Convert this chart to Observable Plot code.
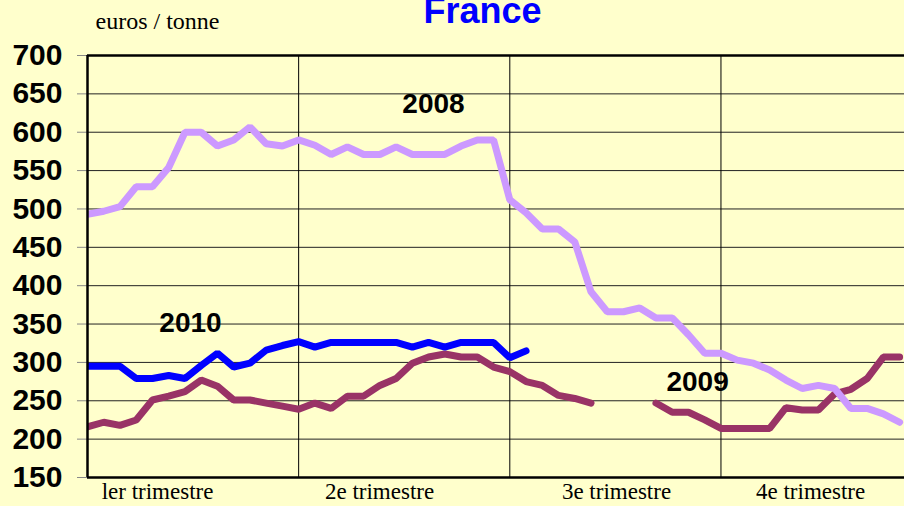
<!DOCTYPE html>
<html>
<head>
<meta charset="utf-8">
<script src="https://cdn.jsdelivr.net/npm/d3@7"></script>
<script src="https://cdn.jsdelivr.net/npm/@observablehq/plot@0.6"></script>
<style>
  html, body { margin: 0; padding: 0; background: #FFFFCC; overflow: hidden; }
  #chart svg { display: block; }
</style>
</head>
<body>
<div id="chart"></div>
<script>
// ---- data (weekly prices, euros / tonne) ----
const prices2008 = [493,497,503,529,529,554,600,600,582,590,607,585,582,590,583,571,581,571,571,581,571,571,571,582,590,590,512,495,474,474,457,392,366,366,371,358,358,336,312,312,303,299,290,277,266,270,266,240,240,233,222];
const prices2009 = [216,222,218,225,251,256,262,277,269,251,251,247,243,239,247,240,256,256,270,279,299,307,311,307,307,294,288,275,270,257,253,247,null,null,null,247,235,235,225,214,214,214,214,241,238,238,259,265,279,307,307];
const prices2010 = [295,295,295,279,279,283,279,296,312,294,299,316,322,327,320,326,326,326,326,326,320,326,320,326,326,326,306,315];

const years = ["2008", "2009", "2010"];
const yearColors = ["#CC99FF", "#993366", "#0000FF"];

const yTicks = [150,200,250,300,350,400,450,500,550,600,650,700];
const quarterLabels = ["ler trimestre", "2e trimestre", "3e trimestre", "4e trimestre"];
const quarterLabelWeeks = [4.31, 17.98, 32.57, 44.52];
const quarterBounds = [13, 26, 39];

const yearLabelWeeks = [21.3, 37.56, 6.34];
const yearLabelPrices = [637, 275, 351];

const title = "France";
const unit = "euros / tonne";

// ---- build tables ----
const toRows = (arr, year) => arr.map((p, i) => ({week: i, price: p, year}));
const rows2008 = toRows(prices2008, "2008");
const rows2009 = toRows(prices2009, "2009");
const rows2010 = toRows(prices2010, "2010");
const yearLabelRows = years.map((y, i) => ({year: y, week: yearLabelWeeks[i], price: yearLabelPrices[i]}));
const quarterRows = quarterLabels.map((t, i) => ({text: t, week: quarterLabelWeeks[i]}));

const lineOpts = {x: "week", y: "price", stroke: "year", strokeWidth: 7, strokeLinejoin: "miter", strokeLinecap: "round", clip: true};

const chart = Plot.plot({
  width: 904,
  height: 506,
  marginLeft: 87,
  marginRight: 0,
  marginTop: 55,
  marginBottom: 29,
  style: {background: "transparent", fontFamily: "'Liberation Sans', Arial, sans-serif", color: "black", overflow: "hidden"},
  x: {domain: [0, 50.3], axis: null},
  y: {domain: [150, 700], axis: null},
  color: {domain: years, range: yearColors},
  marks: [
    Plot.gridY(yTicks, {stroke: "#222", strokeOpacity: 1, strokeWidth: 1}),
    Plot.ruleX(quarterBounds, {stroke: "#000", strokeWidth: 1}),
    Plot.axisY({ticks: yTicks, label: null, tickSize: 10, tickPadding: 15, stroke: "#888", fill: "black", fontSize: 30, fontWeight: "bold", tickFormat: d => d}),
    Plot.line(rows2009, lineOpts),
    Plot.line(rows2008, lineOpts),
    Plot.line(rows2010, lineOpts),
    Plot.ruleX([0], {stroke: "#000", strokeWidth: 2.5}),
    Plot.ruleY([150, 700], {stroke: "#000", strokeWidth: 2.5}),
    Plot.text(yearLabelRows, {x: "week", y: "price", text: "year", fontSize: 28, fontWeight: "bold", fill: "black",
      ariaLabel: "year-labels", fontFamily: "'Liberation Sans', Arial, sans-serif"}),
    Plot.text(quarterRows, {x: "week", text: "text", frameAnchor: "bottom", dy: 21, fontSize: 23, fill: "black",
      ariaLabel: "quarter-labels", fontFamily: "'Liberation Serif', 'Times New Roman', serif"}),
    Plot.text([title], {frameAnchor: "top", dx: -13.5, dy: -58, fontSize: 36, fontWeight: "bold", fill: "#0000FF",
      fontFamily: "'Liberation Sans', Arial, sans-serif"}),
    Plot.text([unit], {frameAnchor: "top-left", textAnchor: "start", dx: 8, dy: -44, fontSize: 24, fill: "black",
      ariaLabel: "unit-label", fontFamily: "'Liberation Serif', 'Times New Roman', serif"})
  ]
});
document.getElementById("chart").appendChild(chart);

// condensed look of the year labels and letter spacing of the serif texts
d3.select(chart).selectAll("g[aria-label='year-labels'] text").each(function() {
  const t = this.getAttribute("transform") || "";
  this.setAttribute("transform", t + " scale(0.8,1)");
});
d3.select(chart).selectAll("g[aria-label='quarter-labels'] text").style("letter-spacing", "0.7px");
d3.select(chart).selectAll("g[aria-label='unit-label'] text").style("letter-spacing", "1px");
</script>
</body>
</html>
